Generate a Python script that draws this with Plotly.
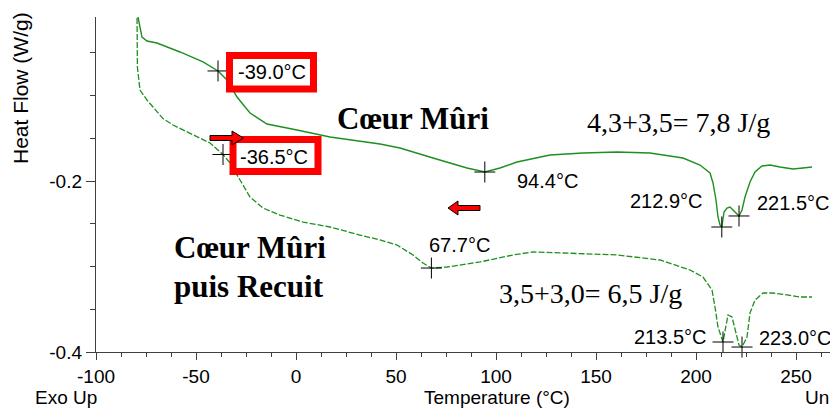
import plotly.graph_objects as go

# ---------------- data ----------------
temp_mature = [-79.5, -79.0, -77.0, -74.5, -69.5, -58.0, -46.5, -39.0, -34.5, -29.5, -23.0, -14.5,
               0.5, 17.0, 42.0, 52.0, 68.5, 85.5, 94.4, 102.0, 110.5, 127.0, 143.5, 160.5, 177.0,
               193.5, 202.0, 207.0, 208.5, 210.0, 211.0, 212.0, 212.9, 214.0, 215.5, 217.0, 218.5,
               220.5, 221.5, 223.0, 224.5, 227.0, 229.5, 233.0, 237.0, 242.0, 248.5, 253.5, 258.0]
hf_mature = [0.000, -0.0082, -0.0316, -0.0363, -0.0386, -0.0491, -0.0608, -0.0713, -0.0819, -0.1018,
             -0.1205, -0.1333, -0.1404, -0.1485, -0.1567, -0.1614, -0.1731, -0.1848, -0.1895, -0.1848,
             -0.1778, -0.1696, -0.1673, -0.1661, -0.1673, -0.1731, -0.1813, -0.1906, -0.2023, -0.2222,
             -0.2421, -0.2515, -0.2538, -0.2363, -0.2316, -0.2304, -0.2339, -0.2386, -0.2409, -0.2339,
             -0.2187, -0.2012, -0.1895, -0.1825, -0.1813, -0.1836, -0.1860, -0.1848, -0.1836]

temp_annealed = [-79.5, -79.3, -78.0, -74.5, -71.5, -66.5, -61.5, -49.5, -43.0, -36.5, -33.0, -28.0,
                 -23.0, -16.5, -8.0, 3.5, 17.0, 32.0, 42.0, 50.5, 58.5, 63.5, 67.7, 75.5, 92.0, 108.5,
                 118.5, 133.5, 160.5, 182.0, 197.0, 203.5, 208.0, 209.5, 211.0, 213.5, 214.5, 216.0,
                 218.0, 219.5, 221.5, 223.0, 225.5, 227.0, 229.5, 233.5, 238.5, 245.5, 252.0, 258.0]
hf_annealed = [0.000, -0.0667, -0.0936, -0.1053, -0.1135, -0.1270, -0.1345, -0.1485, -0.1556, -0.1690,
               -0.1789, -0.1988, -0.2187, -0.2316, -0.2398, -0.2480, -0.2538, -0.2632, -0.2690, -0.2749,
               -0.2865, -0.2959, -0.3018, -0.3006, -0.2947, -0.2865, -0.2830, -0.2842, -0.2865, -0.2924,
               -0.3041, -0.3123, -0.3275, -0.3474, -0.3708, -0.3883, -0.3743, -0.3567, -0.3591, -0.3743,
               -0.3918, -0.3942, -0.3825, -0.3544, -0.3392, -0.3310, -0.3310, -0.3333, -0.3357, -0.3357]

mark_t_mature = [-39.0, 94.4, 212.9, 221.5]
mark_hf_mature = [-0.0713, -0.1895, -0.2538, -0.2409]
mark_t_annealed = [-36.5, 67.7, 213.5, 223.0]
mark_hf_annealed = [-0.1690, -0.3018, -0.3883, -0.3942]

x_tickvals = [-100, -50, 0, 50, 100, 150, 200, 250]
x_ticktext = ["-100", "-50", "0", "50", "100", "150", "200", "250"]
y_tickvals = [-0.4, -0.2]
y_ticktext = ["-0.4", "-0.2"]

# ---------------- layout geometry ----------------
# the page body adds an 8 px offset; geometry below is in window pixels
OFF = 8
W, H = 838 - OFF, 408 - OFF
L, T, R, B = 96, 17, 838, 352   # plot area in window pixels


def px(x):
    return (x - L) / (R - L)


def py(y):
    return (B - y) / (B - T)


GREEN = "#1f8f1f"
AX = "#404040"
SANS = "Arial, Liberation Sans, sans-serif"
SERIF = "Times New Roman, Liberation Serif, serif"

fig = go.Figure()
fig.add_trace(go.Scatter(x=temp_mature, y=hf_mature, mode="lines",
                         line=dict(color=GREEN, width=1.4), showlegend=False, hoverinfo="skip"))
fig.add_trace(go.Scatter(x=temp_annealed, y=hf_annealed, mode="lines",
                         line=dict(color=GREEN, width=1.3, dash="6px,2px"), showlegend=False,
                         hoverinfo="skip"))
fig.add_trace(go.Scatter(x=mark_t_mature + mark_t_annealed, y=mark_hf_mature + mark_hf_annealed,
                         mode="markers",
                         marker=dict(symbol="cross-thin", size=15, line=dict(color="black", width=1)),
                         showlegend=False, hoverinfo="skip", cliponaxis=False))

shapes = []
# red boxes
for (x0, y0, x1, y1) in [(229.5, 55.5, 313.5, 89), (233, 139.5, 318, 171.5)]:
    shapes.append(dict(type="rect", xref="paper", yref="paper", x0=px(x0), x1=px(x1),
                       y0=py(y1), y1=py(y0), line=dict(color="#ff0000", width=7),
                       fillcolor="white", layer="above"))


def arrow(pts):
    s = "M " + " L ".join(f"{px(a):.5f},{py(b):.5f}" for a, b in pts) + " Z"
    return dict(type="path", xref="paper", yref="paper", path=s, fillcolor="#ff0000",
                line=dict(color="black", width=1), layer="above")


shapes.append(arrow([(210, 135.5), (232, 135.5), (232, 131), (243.5, 138), (232, 145),
                     (232, 140.5), (210, 140.5)]))
shapes.append(arrow([(480, 205.5), (458, 205.5), (458, 201), (448, 208), (458, 215),
                     (458, 210.5), (480, 210.5)]))

ann = []


def text(t, x, y, size=20, family=SANS, xanchor="center", bold=False, angle=0):
    ann.append(dict(text=(f"<b>{t}</b>" if bold else t), x=px(x), y=py(y), xref="paper",
                    yref="paper", showarrow=False, xanchor=xanchor, yanchor="middle",
                    textangle=angle, font=dict(family=family, size=size, color="black")))


text("-39.0°C", 272, 72)
text("-36.5°C", 274, 157)
text("94.4°C", 547, 181)
text("212.9°C", 666, 201)
text("221.5°C", 793, 203)
text("67.7°C", 459, 245)
text("213.5°C", 670, 337)
text("223.0°C", 795, 338)
text("Cœur Mûri", 335, 118, size=31, family=SERIF, xanchor="left", bold=True)
text("Cœur Mûri", 172, 247, size=31, family=SERIF, xanchor="left", bold=True)
text("puis Recuit", 172, 286, size=31, family=SERIF, xanchor="left", bold=True)
text("4,3+3,5= 7,8 J/g", 585, 122, size=28, family=SERIF, xanchor="left")
text("3,5+3,0= 6,5 J/g", 497, 293, size=28, family=SERIF, xanchor="left")
text("Exo Up", 33, 397, size=19, xanchor="left")
text("Temperature (°C)", 497, 397, size=19)
text("Uni", 836, 397, size=19, xanchor="right")
text("Heat Flow (W/g)", 21, 88, size=21, angle=-90)

fig.update_layout(
    width=W, height=H,
    margin=dict(l=L - OFF, r=W - (R - OFF), t=T - OFF, b=H - (B - OFF), autoexpand=False),
    paper_bgcolor="white", plot_bgcolor="white",
    shapes=shapes, annotations=ann,
    xaxis=dict(range=[-100, 271], showline=True, linecolor=AX, linewidth=1.3, showgrid=False,
               zeroline=False, ticks="outside", ticklen=7, tickcolor=AX, tickwidth=1.3,
               tickvals=x_tickvals, ticktext=x_ticktext, automargin=False,
               tickfont=dict(family=SANS, size=19, color="black"),
               minor=dict(dtick=12.5, tick0=-100, ticks="outside", ticklen=4, tickcolor=AX,
                          showgrid=False)),
    yaxis=dict(range=[-0.4, -0.00819], showline=True, linecolor=AX, linewidth=1.3, showgrid=False,
               zeroline=False, ticks="outside", ticklen=9, tickcolor=AX, tickwidth=1.3,
               tickvals=y_tickvals, ticktext=y_ticktext, automargin=False,
               tickfont=dict(family=SANS, size=19, color="black"),
               minor=dict(dtick=0.05, tick0=-0.4, ticks="outside", ticklen=5, tickcolor=AX,
                          showgrid=False)),
)

fig.write_html("out.html")
